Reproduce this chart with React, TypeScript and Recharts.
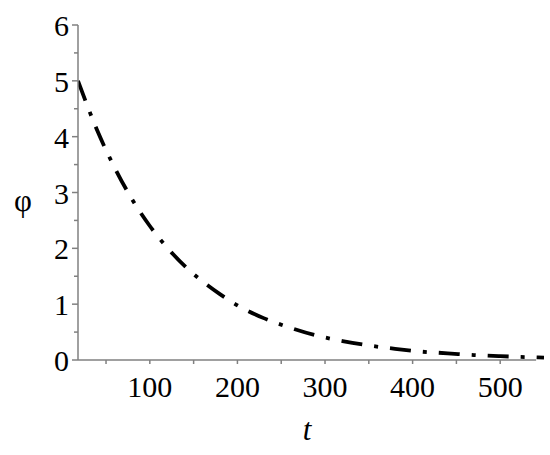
import React from 'react';
import { LineChart, Line, XAxis, YAxis, ReferenceLine } from 'recharts';

const tValues = [18, 40, 60, 80, 100, 120, 140, 160, 180, 200, 230, 260, 290, 320, 350, 380, 410, 440, 470, 500, 530, 550];
const phiValues = [5.0, 4.11, 3.44, 2.87, 2.4, 2.01, 1.68, 1.41, 1.18, 0.98, 0.75, 0.58, 0.44, 0.34, 0.26, 0.2, 0.15, 0.12, 0.088, 0.068, 0.052, 0.043];
const xTicks = [50, 100, 150, 200, 250, 300, 350, 400, 450, 500];
const yTicks = [0, 0.5, 1, 1.5, 2, 2.5, 3, 3.5, 4, 4.5, 5, 5.5, 6];
const xLabel = 't';
const yLabel = 'φ';

const data = tValues.map((t, i) => ({ t, phi: phiValues[i] }));

const FONT = '"Liberation Serif", "Times New Roman", serif';
const AXIS = '#808080';

const XTick = (props: any) => {
  const { x, y, payload } = props;
  const v = payload.value;
  const major = v % 100 === 0;
  return (
    <g>
      <line x1={x} y1={y} x2={x} y2={y + 4} stroke={AXIS} strokeWidth={1.5} />
      {major && (
        <text x={x} y={y + 37} textAnchor="middle" fontFamily={FONT} fontSize={30} fill="#000">
          {v}
        </text>
      )}
    </g>
  );
};

const YTick = (props: any) => {
  const { x, y, payload } = props;
  const v = payload.value;
  const major = Number.isInteger(v);
  return (
    <g>
      <line x1={x - (major ? 6 : 4)} y1={y} x2={x} y2={y} stroke={AXIS} strokeWidth={1.5} />
      {major && (
        <text x={x - 9} y={y + 11} textAnchor="end" fontFamily={FONT} fontSize={30} fill="#000">
          {v}
        </text>
      )}
    </g>
  );
};

export default function App() {
  return (
    <div style={{ position: 'absolute', left: 0, top: 0 }}>
      <LineChart width={550} height={455} data={data} margin={{ top: 25, right: 6, bottom: 0, left: 0 }}>
        <XAxis
          dataKey="t"
          type="number"
          domain={[18, 550]}
          ticks={xTicks}
          tick={<XTick />}
          tickSize={0}
          tickMargin={0}
          axisLine={false}
          tickLine={false}
          height={95}
          allowDataOverflow
          label={{
            content: () => (
              <text x={307} y={440} textAnchor="middle" fontFamily={FONT} fontStyle="italic" fontSize={31} fill="#000">
                {xLabel}
              </text>
            ),
          }}
        />
        <YAxis
          type="number"
          domain={[0, 6]}
          ticks={yTicks}
          tick={<YTick />}
          tickSize={0}
          tickMargin={0}
          tickLine={false}
          axisLine={{ stroke: AXIS, strokeWidth: 1.5 }}
          width={78}
          allowDataOverflow
          label={{
            content: () => (
              <text x={23} y={211} textAnchor="middle" fontFamily={FONT} fontSize={31} fill="#000">
                {yLabel}
              </text>
            ),
          }}
        />
        <ReferenceLine
          segment={[{ x: 18, y: 0 }, { x: 541, y: 0 }]}
          stroke={AXIS}
          strokeWidth={1.5}
        />
        <Line
          dataKey="phi"
          type="monotone"
          stroke="#000"
          strokeWidth={3.8}
          strokeDasharray="21 12 4 12"
          dot={false}
          isAnimationActive={false}
        />
      </LineChart>
    </div>
  );
}
